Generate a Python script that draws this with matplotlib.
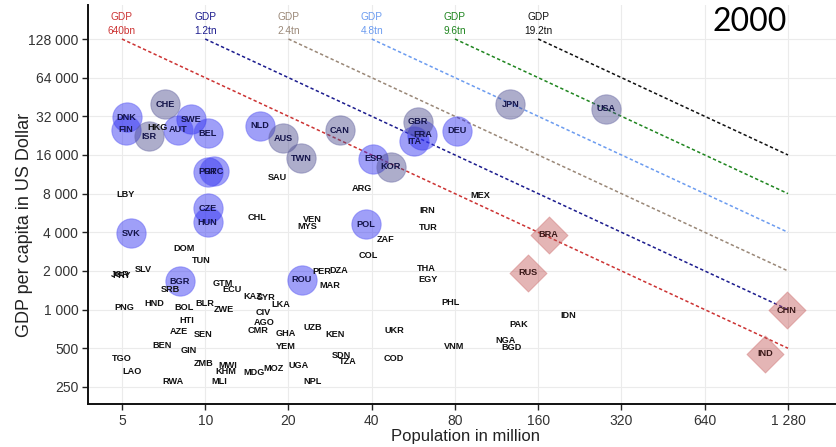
import matplotlib
matplotlib.use("Agg")
import matplotlib.pyplot as plt
from matplotlib.ticker import FixedLocator, FuncFormatter, NullLocator

plt.rcParams["font.family"] = ["Liberation Sans", "DejaVu Sans"]

# population in million, GDP per capita in US dollar (year 2000)
EU_CODES = ["DNK", "FIN", "SWE", "AUT", "BEL", "NLD", "ESP", "FRA", "ITA", "DEU",
            "PRT", "GRC", "CZE", "HUN", "SVK", "POL", "BGR", "ROU"]
EU_POP = [5.2, 5.17, 8.9, 8.0, 10.2, 15.8, 40.5, 61.0, 56.9, 81.6,
          10.2, 10.75, 10.25, 10.2, 5.39, 38.2, 8.1, 22.3]
EU_GDP = [31600, 25100, 30300, 25100, 23600, 26900, 14900, 22900, 20500, 24650,
          11800, 12000, 6170, 4770, 3940, 4630, 1658, 1709]

OECD_CODES = ["CHE", "ISR", "AUS", "TWN", "CAN", "JPN", "USA", "GBR", "KOR"]
OECD_POP = [7.15, 6.26, 19.1, 22.2, 30.6, 127, 282, 58.8, 46.9]
OECD_GDP = [39600, 22300, 21500, 15150, 25000, 39700, 36750, 29100, 13000]

BRICS_CODES = ["BRA", "RUS", "CHN", "IND"]
BRICS_POP = [174.5, 146.5, 1270, 1055]
BRICS_GDP = [3820, 1936, 985, 454]

OTHER_CODES = ["HKG", "SAU", "ARG", "LBY", "CHL", "VEN", "MYS", "DOM", "TUN", "SLV",
               "JOR", "PRY", "SRB", "GTM", "ECU", "PER", "DZA", "MAR", "PNG", "HND",
               "BOL", "BLR", "ZWE", "KAZ", "SYR", "LKA", "CIV", "AGO", "CMR", "GHA",
               "UZB", "KEN", "HTI", "AZE", "SEN", "BEN", "GIN", "YEM", "SDN", "TZA",
               "TGO", "LAO", "ZMB", "MWI", "KHM", "MDG", "MOZ", "UGA", "RWA", "MLI",
               "NPL", "MEX", "IRN", "TUR", "ZAF", "COL", "THA", "EGY", "PHL", "UKR",
               "COD", "VNM", "PAK", "NGA", "BGD", "IDN"]
OTHER_POP = [6.7, 18.2, 36.8, 5.17, 15.35, 24.4, 23.4, 8.4, 9.7, 5.97,
             4.92, 5.0, 7.5, 11.6, 12.45, 26.3, 30.5, 28.2, 5.11, 6.56,
             8.4, 9.98, 11.7, 14.8, 16.6, 18.8, 16.2, 16.4, 15.5, 19.6,
             24.4, 29.4, 8.56, 8.0, 9.8, 7.0, 8.73, 19.6, 31.1, 32.7,
             5.0, 5.42, 9.9, 12.1, 11.85, 15.0, 17.7, 21.8, 7.66, 11.2,
             24.4, 99, 63.5, 64.3, 44.9, 39, 63, 64, 77, 48.5,
             48, 79.3, 136, 122, 128, 206]
OTHER_GDP = [26300, 10750, 8830, 7930, 5250, 5000, 4440, 2977, 2400, 2044,
             1862, 1830, 1428, 1610, 1446, 1982, 2000, 1535, 1047, 1111,
             1029, 1111, 998, 1267, 1250, 1092, 941, 795, 685, 650,
             727, 638, 820, 677, 638, 527, 479, 512, 440, 391,
             415, 327, 380, 368, 327, 321, 347, 368, 276, 273,
             276, 7690, 5910, 4360, 3500, 2626, 2080, 1709, 1126, 689,
             413, 518, 759, 576, 503, 901]

# iso-GDP lines (total GDP in US dollar)
GDP_TOTALS = [640e9, 1.28e12, 2.56e12, 5.12e12, 10.24e12, 20.48e12]
GDP_LABELS = ["640bn", "1.2tn", "2.4tn", "4.8tn", "9.6tn", "19.2tn"]
GDP_COLORS = ["#cc3333", "#1c1c8e", "#9a8878", "#6c9cf0", "#1f851f", "#111111"]
LINE_END_POP = 1280
LINE_TOP_GDP = 128000

X_TICKS = [5, 10, 20, 40, 80, 160, 320, 640, 1280]
Y_TICKS = [250, 500, 1000, 2000, 4000, 8000, 16000, 32000, 64000, 128000]
YEAR = "2000"

fig = plt.figure(figsize=(8.36, 4.47), dpi=100)
ax = fig.add_axes([0.1053, 0.0962, 0.8947, 0.8926])
ax.set_xscale("log")
ax.set_yscale("log")
ax.set_xlim(3.77, 1909)
ax.set_ylim(184, 235500)

# iso-GDP dashed lines with labels
for total, lab, col in zip(GDP_TOTALS, GDP_LABELS, GDP_COLORS):
    p0 = total / LINE_TOP_GDP / 1e6
    pops = [p0, LINE_END_POP]
    ax.plot(pops, [total / (p * 1e6) for p in pops], color=col,
            linestyle=(0, (2.2, 1.6)), linewidth=1.1, zorder=2)
    ax.annotate(lab, (p0, LINE_TOP_GDP), xytext=(0, 5.5), textcoords="offset points",
                ha="center", va="center", fontsize=7.3, color=col)
    ax.annotate("GDP", (p0, LINE_TOP_GDP), xytext=(0, 15.5), textcoords="offset points",
                ha="center", va="center", fontsize=7.3, color=col)

ax.scatter(EU_POP, EU_GDP, s=445, marker="o", facecolor="#2a2af0", alpha=0.45,
           edgecolor="#5a5af5", linewidth=0.8, zorder=3)
ax.scatter(OECD_POP, OECD_GDP, s=445, marker="o", facecolor="#4a4a8c", alpha=0.45,
           edgecolor="#6a6aa5", linewidth=0.8, zorder=3)
ax.scatter(BRICS_POP, BRICS_GDP, s=355, marker="D", facecolor="#c05050", alpha=0.42,
           edgecolor="#d07070", linewidth=0.8, zorder=3)

for codes, pops, gdps, col in [(EU_CODES, EU_POP, EU_GDP, "#14144a"),
                               (OECD_CODES, OECD_POP, OECD_GDP, "#14144a"),
                               (BRICS_CODES, BRICS_POP, BRICS_GDP, "#3a1818"),
                               (OTHER_CODES, OTHER_POP, OTHER_GDP, "#111111")]:
    for c, p, g in zip(codes, pops, gdps):
        ax.text(p, g, c, ha="center", va="center", fontsize=6.6,
                fontweight="bold", color=col, zorder=4)

fmt = FuncFormatter(lambda v, pos: f"{int(round(v)):,}".replace(",", " "))
ax.xaxis.set_major_locator(FixedLocator(X_TICKS))
ax.yaxis.set_major_locator(FixedLocator(Y_TICKS))
ax.xaxis.set_minor_locator(NullLocator())
ax.yaxis.set_minor_locator(NullLocator())
ax.xaxis.set_major_formatter(fmt)
ax.yaxis.set_major_formatter(fmt)
ax.tick_params(axis="both", length=4, width=1, color="#222222", labelsize=10,
               labelcolor="#333333", pad=3)

ax.grid(True, color="#ebebeb", linewidth=0.8, zorder=0)
ax.set_axisbelow(True)
for side in ["top", "right"]:
    ax.spines[side].set_visible(False)
for side in ["left", "bottom"]:
    ax.spines[side].set_linewidth(1.4)
    ax.spines[side].set_color("#111111")

ax.set_xlabel("Population in million", fontsize=12, color="#222222")
ax.set_ylabel("GDP per capita in US Dollar", fontsize=13, color="#222222")
ax.xaxis.set_label_coords(0.504, -0.062)
ax.yaxis.set_label_coords(-0.073, 0.449)

fig.text(0.897, 0.9497, YEAR, ha="center", va="center", fontsize=23,
         family=["Lato", "DejaVu Sans"], color="black")

fig.savefig("out.png", dpi=100)
